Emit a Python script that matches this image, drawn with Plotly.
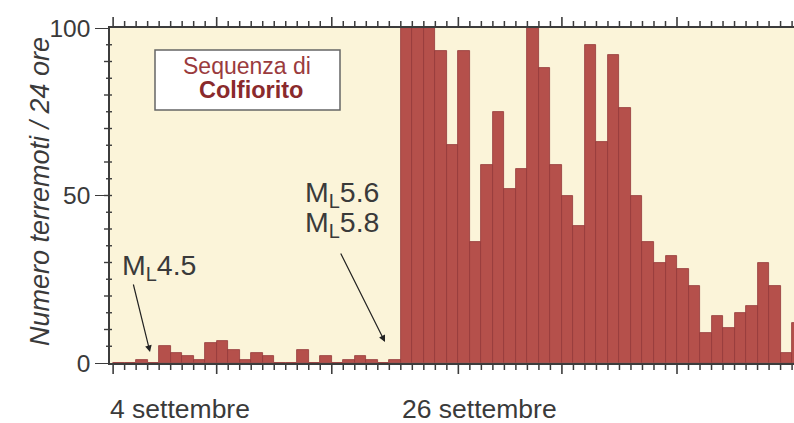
import plotly.graph_objects as go
import pandas as pd

# ---- data ----
start_day = "1997-09-01"
n_days = 60
days = pd.date_range(start_day, periods=n_days, freq="D")
counts = [0, 0, 1, 0, 5, 3, 2, 1, 6, 6.5, 4, 1, 3, 2, 0, 0, 4, 0, 2, 0, 1, 2, 1, 0, 1,
          100, 100, 100, 93, 65, 93, 36, 59, 75, 52, 58, 100, 88, 59, 50, 41, 95, 66, 92, 76,
          50, 36, 30, 32, 28, 23, 9, 14, 10.5, 15, 17, 30, 23, 3, 12]
major_tick_dates = ["1997-09-01", "1997-09-10", "1997-09-20", "1997-10-01", "1997-10-10", "1997-10-20"]
date_labels = ["4 settembre", "26 settembre"]
y_ticks = [0, 50, 100]
y_minor_ticks = list(range(5, 100, 5))
y_title = "Numero terremoti / 24 ore"
box_lines = ["Sequenza di", "Colfiorito"]
event_labels = ["M<sub>L</sub>4.5", "M<sub>L</sub>5.6", "M<sub>L</sub>5.8"]

W, H = 794, 423
L, T, B = 110, 28, 60
PW, PH = W - L, H - T - B

def px(xp):
    return (xp - L) / PW

def py(yp):
    return (H - B - yp) / PH

FONT = "Liberation Sans, Arial, sans-serif"
TXT = "#3a3a3a"
DARKRED = "#8a2a2c"
AXC = "#3c3c3c"

xs = days + pd.Timedelta(hours=12)

fig = go.Figure()
fig.add_trace(go.Bar(
    x=xs, y=counts, width=86400000,
    marker=dict(color="#b5504b", line=dict(color="#93383a", width=0.8)),
    showlegend=False, hoverinfo="x+y",
))

fig.update_layout(
    width=W, height=H,
    margin=dict(l=L, r=0, t=T, b=B, pad=0),
    paper_bgcolor="white",
    plot_bgcolor="#fbf4d9",
    bargap=0,
    font=dict(family=FONT, color=TXT),
    xaxis=dict(
        type="date",
        range=["1997-08-31 17:30", "1997-10-30 04:00"],
        showticklabels=False, ticks="",
        showline=True, linecolor=AXC, linewidth=1.5, mirror=True,
        showgrid=False, zeroline=False, fixedrange=True,
    ),
    yaxis=dict(
        range=[0, 100],
        tickmode="array", tickvals=y_ticks,
        ticks="outside", ticklen=13, tickwidth=1.3, tickcolor=AXC,
        tickfont=dict(size=24.5, color=TXT, family=FONT),
        showline=True, linecolor=AXC, linewidth=1.5,
        showgrid=False, zeroline=False, fixedrange=True,
    ),
)

# axis tick marks: daily ticks (top and bottom), longer on days 1, 10, 20
major_set = set(pd.to_datetime(major_tick_dates))
tick_shapes = []
for d in days:
    is_major = d in major_set
    h = (11 if is_major else 7) / PH
    w = 1.6 if is_major else 1.5
    for y0, y1 in [(-1 / PH, -h), (1 + 1 / PH, 1 + h)]:
        tick_shapes.append(dict(type="line", xref="x", yref="paper", x0=d, x1=d, y0=y0, y1=y1,
                                line=dict(color=AXC, width=w), layer="above"))
# y minor ticks every 5
for v in y_minor_ticks:
    ln = 6 if v % 10 == 0 else 4
    tick_shapes.append(dict(type="line", xref="paper", yref="y", x0=-ln / PW, x1=2 / PW,
                            y0=v, y1=v, line=dict(color=AXC, width=1.4), layer="above"))

# title box
box_shape = dict(type="rect", xref="paper", yref="paper",
                 x0=px(155), x1=px(340), y0=py(110), y1=py(50),
                 fillcolor="white", line=dict(color="#666", width=1.5), layer="above")
fig.update_layout(shapes=tick_shapes + [box_shape])

ann = []
ann.append(dict(text=box_lines[0], x=px(247), y=py(66), font=dict(size=23, color="#9a3b3d")))
ann.append(dict(text="<b>" + box_lines[1] + "</b>", x=px(251), y=py(90), font=dict(size=23.5, color=DARKRED)))
# event labels
ann.append(dict(text=event_labels[0], x=px(120), y=py(267), xanchor="left", font=dict(size=28.5, color=TXT)))
ann.append(dict(text=event_labels[1], x=px(303), y=py(194), xanchor="left", font=dict(size=28.5, color=TXT)))
ann.append(dict(text=event_labels[2], x=px(303), y=py(224), xanchor="left", font=dict(size=28.5, color=TXT)))
# date labels
ann.append(dict(text=date_labels[0], x=px(108), y=py(409), xanchor="left", font=dict(size=26.5, color=TXT)))
ann.append(dict(text=date_labels[1], x=px(400), y=py(409), xanchor="left", font=dict(size=26.5, color=TXT)))
# y title
ann.append(dict(text="<i>" + y_title + "</i>", x=px(40), y=py(192), textangle=-90,
                font=dict(size=27, color=TXT)))
for a in ann:
    a.setdefault("xanchor", "center")
    a.update(xref="paper", yref="paper", yanchor="middle", showarrow=False)
    fig.add_annotation(**a)

# arrows
for tipx, tipy, sx, sy in [(150, 352, 133, 283), (385, 342, 340, 252)]:
    fig.add_annotation(xref="paper", yref="paper", x=px(tipx), y=py(tipy),
                       ax=sx - tipx, ay=sy - tipy, text="", showarrow=True,
                       arrowhead=2, arrowsize=1.1, arrowwidth=1.2, arrowcolor="#222")

fig.write_html("out.html", config={"displayModeBar": False},
               post_script="document.body.style.margin='0';document.body.style.overflow='hidden';")
